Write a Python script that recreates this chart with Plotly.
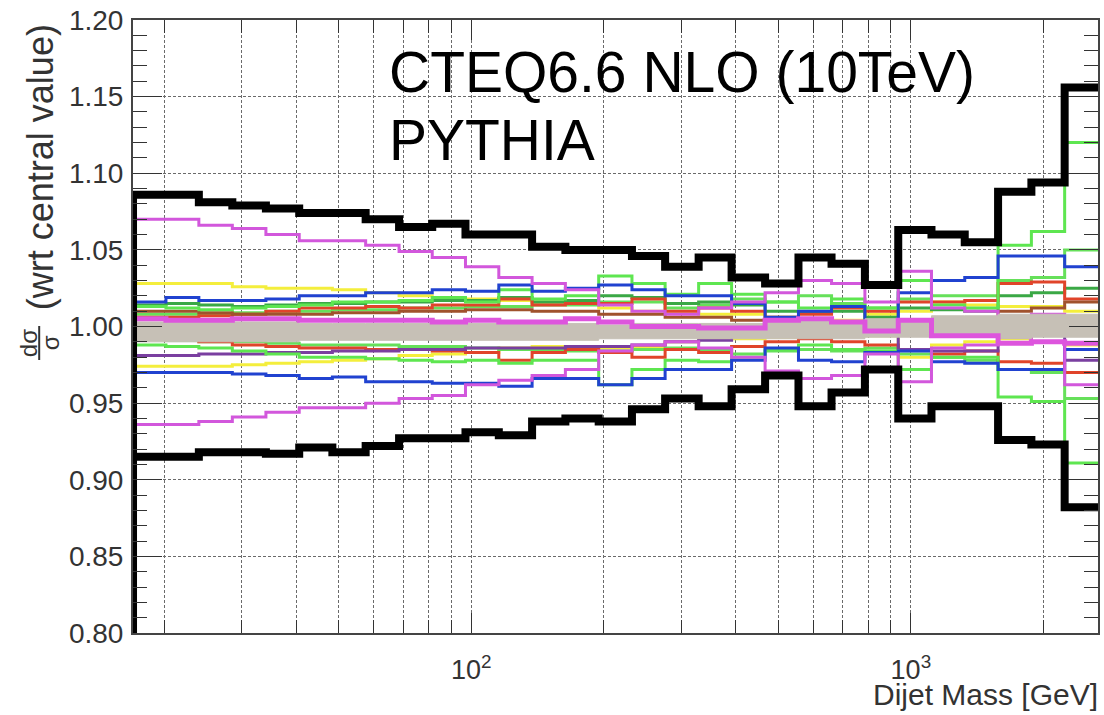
import plotly.graph_objects as go

# Dijet mass bin edges [GeV] (log-uniform binning)
EDGES = [17.0, 20.2, 24.0, 28.6, 34.1, 40.6, 48.3, 57.5, 68.5, 81.5, 97.0, 115.5,
         137.5, 163.7, 194.9, 232.0, 276.0, 329.0, 391.0, 466.0, 555.0, 660.0,
         786.0, 936.0, 1114.0, 1326.0, 1579.0, 1880.0, 2238.0, 2665.0]

# Total PDF uncertainty envelope
ENV_UP = [1.086, 1.086, 1.081, 1.079, 1.077, 1.074, 1.074, 1.070, 1.065, 1.067, 1.060, 1.060,
          1.052, 1.050, 1.050, 1.046, 1.039, 1.045, 1.032, 1.028, 1.045, 1.041, 1.027, 1.063,
          1.060, 1.055, 1.088, 1.094, 1.156]
ENV_DN = [0.915, 0.915, 0.918, 0.918, 0.917, 0.921, 0.918, 0.922, 0.927, 0.927, 0.931, 0.929,
          0.938, 0.940, 0.938, 0.946, 0.953, 0.948, 0.959, 0.968, 0.948, 0.957, 0.972, 0.940,
          0.948, 0.948, 0.926, 0.923, 0.882]

# Individual eigenvector variations
MAG_UP = [1.070, 1.070, 1.066, 1.064, 1.060, 1.056, 1.056, 1.053, 1.049, 1.045, 1.039, 1.032,
          1.028, 1.024, 1.014, 1.010, 1.008, 1.012, 1.016, 1.022, 1.030, 1.028, 1.016, 1.036,
          1.012, 1.010, 1.006, 1.008, 1.004]
MAG_DN = [0.936, 0.936, 0.938, 0.941, 0.944, 0.947, 0.947, 0.950, 0.953, 0.955, 0.962, 0.965,
          0.968, 0.972, 0.984, 0.988, 0.990, 0.986, 0.980, 0.971, 0.966, 0.968, 0.982, 0.964,
          0.986, 0.988, 0.993, 0.990, 0.962]
BLUE_UP = [1.016, 1.019, 1.017, 1.017, 1.018, 1.020, 1.020, 1.022, 1.022, 1.024, 1.023, 1.027,
           1.023, 1.025, 1.027, 1.024, 1.020, 1.020, 1.015, 1.006, 1.010, 1.013, 1.002, 1.022,
           1.030, 1.032, 1.046, 1.046, 1.039]
BLUE_DN = [0.970, 0.970, 0.970, 0.969, 0.968, 0.966, 0.967, 0.964, 0.964, 0.963, 0.963, 0.961,
           0.966, 0.966, 0.962, 0.966, 0.972, 0.972, 0.978, 0.986, 0.978, 0.977, 0.983, 0.984,
           0.977, 0.976, 0.972, 0.972, 0.985]
YEL_UP = [1.028, 1.028, 1.028, 1.026, 1.025, 1.025, 1.024, 1.022, 1.020, 1.019, 1.018, 1.017,
          1.016, 1.015, 1.012, 1.010, 1.009, 1.008, 1.008, 1.006, 1.004, 1.004, 1.008, 1.010,
          1.016, 1.014, 1.013, 1.013, 1.010]
YEL_DN = [0.974, 0.974, 0.974, 0.975, 0.976, 0.977, 0.978, 0.979, 0.981, 0.982, 0.983, 0.986,
          0.987, 0.985, 0.986, 0.987, 0.990, 0.992, 0.992, 0.993, 0.994, 0.996, 0.994, 0.980,
          0.988, 0.990, 0.992, 0.990, 0.988]
GRN_UP = [1.013, 1.012, 1.011, 1.012, 1.013, 1.014, 1.016, 1.016, 1.017, 1.019, 1.016, 1.024,
          1.018, 1.020, 1.033, 1.028, 1.021, 1.028, 1.021, 1.016, 1.012, 1.018, 1.012, 1.030,
          1.014, 1.012, 1.053, 1.062, 1.120]
GRN_DN = [0.988, 0.987, 0.986, 0.984, 0.982, 0.980, 0.980, 0.979, 0.978, 0.977, 0.978, 0.976,
          0.978, 0.978, 0.962, 0.972, 0.978, 0.977, 0.980, 0.985, 0.988, 0.985, 0.984, 0.972,
          0.980, 0.980, 0.954, 0.951, 0.911]
GRN2_UP = [1.008, 1.008, 1.008, 1.009, 1.010, 1.010, 1.011, 1.011, 1.012, 1.012, 1.013, 1.013,
           1.014, 1.014, 1.016, 1.016, 1.012, 1.014, 1.018, 1.016, 1.020, 1.015, 1.012, 1.018,
           1.020, 1.020, 1.030, 1.032, 1.050]
GRN2_DN = [0.992, 0.991, 0.990, 0.990, 0.989, 0.988, 0.988, 0.988, 0.987, 0.987, 0.986, 0.985,
           0.985, 0.984, 0.984, 0.985, 0.986, 0.985, 0.982, 0.984, 0.985, 0.984, 0.986, 0.982,
           0.980, 0.978, 0.972, 0.970, 0.953]
RED_UP = [1.006, 1.006, 1.007, 1.008, 1.010, 1.012, 1.012, 1.013, 1.012, 1.014, 1.014, 1.018,
          1.014, 1.015, 1.015, 1.018, 1.010, 1.012, 1.010, 1.006, 1.008, 1.012, 1.010, 1.016,
          1.016, 1.017, 1.028, 1.029, 1.018]
RED_DN = [0.993, 0.992, 0.990, 0.988, 0.987, 0.986, 0.986, 0.985, 0.985, 0.984, 0.983, 0.978,
          0.983, 0.985, 0.983, 0.980, 0.985, 0.983, 0.987, 0.990, 0.992, 0.990, 0.988, 0.985,
          0.982, 0.984, 0.977, 0.976, 0.970]
PURPLE = [0.981, 0.981, 0.982, 0.982, 0.983, 0.983, 0.984, 0.984, 0.985, 0.985, 0.986, 0.986,
          0.986, 0.987, 0.987, 0.988, 0.990, 0.991, 0.994, 1.000, 0.998, 0.996, 0.997, 0.985,
          0.984, 0.984, 0.995, 0.995, 0.978]
BROWN = [1.010, 1.010, 1.009, 1.008, 1.008, 1.008, 1.009, 1.009, 1.010, 1.010, 1.011, 1.011,
         1.010, 1.010, 1.008, 1.008, 1.006, 1.006, 1.004, 1.000, 0.997, 0.998, 1.003, 1.002,
         1.004, 1.004, 1.010, 1.012, 1.016]
DKGRN = [1.014, 1.015, 1.014, 1.013, 1.014, 1.015, 1.015, 1.016, 1.016, 1.017, 1.017, 1.019,
         1.016, 1.017, 1.020, 1.019, 1.015, 1.016, 1.014, 1.010, 1.009, 1.010, 1.006, 1.012,
         1.011, 1.010, 1.020, 1.022, 1.025]
PINK = [1.005, 1.004, 1.004, 1.005, 1.005, 1.004, 1.004, 1.004, 1.004, 1.003, 1.004, 1.003,
        1.003, 1.005, 1.003, 1.000, 1.000, 0.999, 0.999, 1.004, 1.005, 1.003, 0.997, 1.004,
        0.994, 0.994, 0.989, 0.990, 0.989]

# Dense core of small variations, drawn as a grey band
CORE_HI = [1.003, 1.003, 1.003, 1.003, 1.003, 1.002, 1.002, 1.002, 1.002, 1.002, 1.002, 1.002,
           1.002, 1.002, 1.001, 1.002, 1.002, 1.002, 1.002, 1.003, 1.004, 1.004, 1.005, 1.005,
           1.007, 1.007, 1.008, 1.008, 1.008]
CORE_LO = [0.990, 0.990, 0.990, 0.990, 0.990, 0.991, 0.991, 0.991, 0.991, 0.991, 0.991, 0.991,
           0.991, 0.991, 0.992, 0.992, 0.992, 0.992, 0.992, 0.992, 0.992, 0.992, 0.993, 0.993,
           0.993, 0.993, 0.992, 0.993, 0.993]

Y_TICKS = [0.80, 0.85, 0.90, 0.95, 1.00, 1.05, 1.10, 1.15, 1.20]
Y_TICK_TEXT = ["0.80", "0.85", "0.90", "0.95", "1.00", "1.05", "1.10", "1.15", "1.20"]
X_TICKS = [100, 1000]
X_TICK_TEXT = ["10<sup>2</sup>", "10<sup>3</sup>"]
X_MINOR = [20, 30, 40, 50, 60, 70, 80, 90, 200, 300, 400, 500, 600, 700, 800, 900, 2000]

W, H = 1104, 715
L, R, T, B = 133, 4, 20, 82
PW, PH = W - L - R, H - T - B


def px(xp):
    return (xp - L) / PW


def py(yp):
    return (H - B - yp) / PH


def step_xy(vals):
    return EDGES, list(vals) + [vals[-1]]


fig = go.Figure()

colored = [
    (YEL_UP, "#f4ee3c"), (YEL_DN, "#f4ee3c"),
    (GRN2_UP, "#66e05a"), (GRN2_DN, "#66e05a"),
    (DKGRN, "#3aa845"),
    (RED_UP, "#e0442a"), (RED_DN, "#e0442a"),
    (BROWN, "#a0522d"), (PURPLE, "#7a3fa0"),
    (GRN_UP, "#5ee650"), (GRN_DN, "#5ee650"),
    (BLUE_UP, "#2042d0"), (BLUE_DN, "#2042d0"),
    (MAG_UP, "#d257dc"), (MAG_DN, "#d257dc"),
]
for vals, col in colored:
    xs, ys = step_xy(vals)
    fig.add_trace(go.Scatter(x=xs, y=ys, mode="lines", line=dict(color=col, width=3, shape="hv"),
                             hoverinfo="skip", showlegend=False))

# grey core band
xs, ys = step_xy(CORE_LO)
fig.add_trace(go.Scatter(x=xs, y=ys, mode="lines", line=dict(color="#c6c0b6", width=1, shape="hv"),
                         hoverinfo="skip", showlegend=False))
xs, ys = step_xy(CORE_HI)
fig.add_trace(go.Scatter(x=xs, y=ys, mode="lines", fill="tonexty", fillcolor="#c6c0b6",
                         line=dict(color="#c6c0b6", width=1, shape="hv"),
                         hoverinfo="skip", showlegend=False))
xs, ys = step_xy(PINK)
fig.add_trace(go.Scatter(x=xs, y=ys, mode="lines", line=dict(color="#dd55dd", width=5, shape="hv"),
                         hoverinfo="skip", showlegend=False))

# envelope (thick black)
xs, ys = step_xy(ENV_DN)
fig.add_trace(go.Scatter(x=xs, y=ys, mode="lines", line=dict(color="black", width=8, shape="hv"),
                         hoverinfo="skip", showlegend=False))
xs, ys = step_xy(ENV_UP)
fig.add_trace(go.Scatter(x=[EDGES[0]] + xs, y=[0.80] + ys, mode="lines",
                         line=dict(color="black", width=8, shape="hv"),
                         hoverinfo="skip", showlegend=False))

grid = dict(gridcolor="#6a6a6a", gridwidth=1, griddash="3px,2px")
fig.update_xaxes(type="log", range=[1.2304, 3.4257], tickmode="array", tickvals=X_TICKS,
                 ticktext=X_TICK_TEXT, ticks="inside", ticklen=20, tickwidth=1, tickcolor="#333",
                 showline=True, linecolor="#444", linewidth=2, mirror="ticks", showgrid=True, **grid,
                 minor=dict(tickmode="array", tickvals=X_MINOR, ticks="inside", ticklen=13,
                            tickcolor="#333", showgrid=True, gridcolor="#6a6a6a", griddash="3px,2px"),
                 tickfont=dict(family="Liberation Sans", size=27, color="#333"),
                 ticklabelstandoff=12, zeroline=False)
fig.update_yaxes(range=[0.80, 1.20], tickmode="array", tickvals=Y_TICKS, ticktext=Y_TICK_TEXT,
                 ticks="inside", ticklen=29, tickwidth=1, tickcolor="#333",
                 showline=True, linecolor="#444", linewidth=2, mirror="ticks", showgrid=True, **grid,
                 minor=dict(dtick=0.01, ticks="inside", ticklen=14, tickcolor="#333", showgrid=False),
                 tickfont=dict(family="Liberation Sans", size=28, color="#333"),
                 ticklabelstandoff=2, zeroline=False)

# white label box
fig.add_shape(type="rect", xref="paper", yref="paper", x0=px(382), x1=px(1010), y0=py(175), y1=py(33),
              fillcolor="white", line=dict(width=0), layer="between")

fig.add_annotation(xref="paper", yref="paper", x=px(388), y=py(72), xanchor="left", yanchor="middle",
                   text="CTEQ6.6 NLO (10TeV)", showarrow=False,
                   font=dict(family="Liberation Sans", size=57, color="black"))
fig.add_annotation(xref="paper", yref="paper", x=px(388), y=py(140), xanchor="left", yanchor="middle",
                   text="PYTHIA", showarrow=False,
                   font=dict(family="Liberation Sans", size=57, color="black"))

# axis titles
fig.add_annotation(xref="paper", yref="paper", x=px(1102), y=py(694), xanchor="right", yanchor="middle",
                   text="Dijet Mass [GeV]", showarrow=False,
                   font=dict(family="Liberation Sans", size=30, color="#333"))
fig.add_annotation(xref="paper", yref="paper", x=px(40), y=py(22), xanchor="center", yanchor="top",
                   text="(wrt central value)", textangle=-90, showarrow=False,
                   font=dict(family="Liberation Sans", size=36, color="#333"))
fig.add_annotation(xref="paper", yref="paper", x=px(28), y=py(343), xanchor="center", yanchor="middle",
                   text="dσ", textangle=-90, showarrow=False,
                   font=dict(family="Liberation Sans", size=24, color="#333"))
fig.add_annotation(xref="paper", yref="paper", x=px(50), y=py(343), xanchor="center", yanchor="middle",
                   text="σ", textangle=-90, showarrow=False,
                   font=dict(family="Liberation Sans", size=24, color="#333"))
fig.add_shape(type="line", xref="paper", yref="paper", x0=px(39), x1=px(39), y0=py(326), y1=py(360),
              line=dict(color="#333", width=2))

fig.update_layout(width=W, height=H, margin=dict(l=L, r=R, t=T, b=B),
                  plot_bgcolor="white", paper_bgcolor="white", showlegend=False)

fig.write_html("out.html")
